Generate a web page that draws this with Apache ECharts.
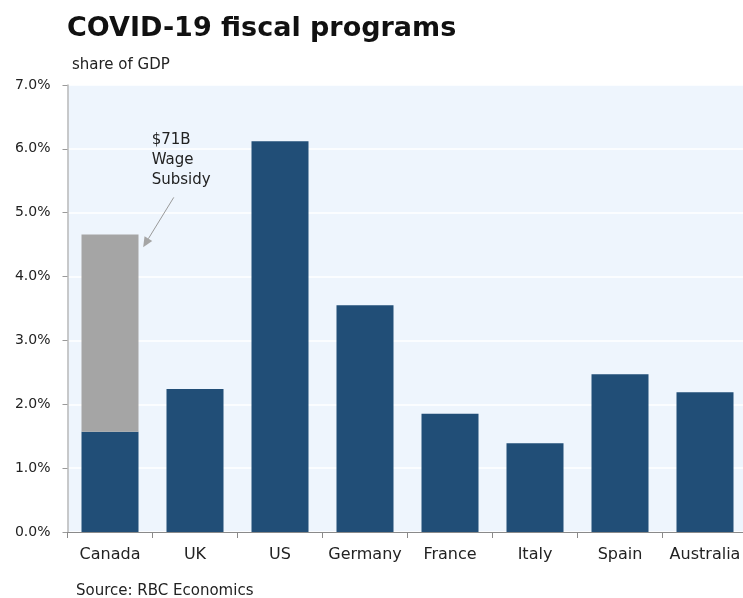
<!DOCTYPE html>
<html>
<head>
<meta charset="utf-8">
<script src="https://cdn.jsdelivr.net/npm/echarts@6/dist/echarts.min.js"></script>
<style>
html,body{margin:0;padding:0;background:#fff;overflow:hidden;width:743px;height:598px;}
#c{width:760px;height:598px;}
</style>
</head>
<body>
<div id="c"></div>
<script>
var categories = ['Canada', 'UK', 'US', 'Germany', 'France', 'Italy', 'Spain', 'Australia'];
var baseValues = [1.57, 2.24, 6.12, 3.55, 1.85, 1.39, 2.47, 2.19];
var wageSubsidy = [3.09, '-', '-', '-', '-', '-', '-', '-'];
var annotationText = '$71B\nWage\nSubsidy';

var font = 'DejaVu Sans';
var chart = echarts.init(document.getElementById('c'), null, {renderer: 'canvas'});
chart.setOption({
  animation: false,
  backgroundColor: '#ffffff',
  title: [
    {text: 'COVID-19 fiscal programs', left: 62, top: 10,
     textStyle: {fontFamily: font, fontSize: 27, fontWeight: 'bold', color: '#111'}},
    {text: 'share of GDP', left: 67, top: 53,
     textStyle: {fontFamily: font, fontSize: 15, fontWeight: 'normal', color: '#222'}},
    {text: 'Source: RBC Economics', left: 71, top: 579,
     textStyle: {fontFamily: font, fontSize: 15, fontWeight: 'normal', color: '#222'}}
  ],
  grid: {left: 67.5, top: 85, width: 680, bottom: 66, show: true,
         backgroundColor: '#EEF5FD', borderWidth: 0},
  xAxis: {
    type: 'category', data: categories,
    axisLine: {lineStyle: {color: '#8a8a8a', width: 1}},
    axisTick: {show: true, length: 6, interval: 0, lineStyle: {color: '#8a8a8a'}},
    axisLabel: {fontFamily: font, fontSize: 16, color: '#222', margin: 15, interval: 0}
  },
  yAxis: {
    type: 'value', min: 0, max: 7, interval: 1,
    axisLine: {show: true, lineStyle: {color: '#b8b8b8', width: 1.5}},
    axisTick: {show: true, length: 5, lineStyle: {color: '#9a9a9a'}},
    axisLabel: {fontFamily: font, fontSize: 14, color: '#222', margin: 17,
                formatter: function (v) { return v.toFixed(1) + '%'; }},
    splitLine: {show: true, lineStyle: {color: '#ffffff', width: 1.5}}
  },
  series: [
    {type: 'bar', stack: 'a', data: baseValues, barWidth: 57,
     itemStyle: {color: '#214E77'}},
    {type: 'bar', stack: 'a', data: wageSubsidy, barWidth: 57,
     itemStyle: {color: '#A5A5A5'}}
  ]
});

function px(frac, val) {
  var a = chart.convertToPixel({gridIndex: 0}, [0, val]);
  var b = chart.convertToPixel({gridIndex: 0}, [1, val]);
  return [a[0] + (b[0] - a[0]) * frac, a[1]];
}
var p0 = px(0.75, 5.24);
var p1 = px(0.39, 4.46);
var pt = px(0.49, 6.29);
var ang = Math.atan2(p1[1] - p0[1], p1[0] - p0[0]);
var L = 10, W = 4.5;
var bx = p1[0] - L * Math.cos(ang), by = p1[1] - L * Math.sin(ang);
var nx = -Math.sin(ang), ny = Math.cos(ang);
chart.setOption({
  graphic: [
    {type: 'text', left: pt[0], top: pt[1],
     style: {text: annotationText, fontFamily: font, fontSize: 15, fill: '#222', lineHeight: 20}},
    {type: 'line', shape: {x1: p0[0], y1: p0[1], x2: bx, y2: by},
     style: {stroke: '#9a9a9a', lineWidth: 1}},
    {type: 'polygon', shape: {points: [[p1[0], p1[1]], [bx + nx * W, by + ny * W], [bx - nx * W, by - ny * W]]},
     style: {fill: '#A5A5A5'}}
  ]
});
</script>
</body>
</html>
